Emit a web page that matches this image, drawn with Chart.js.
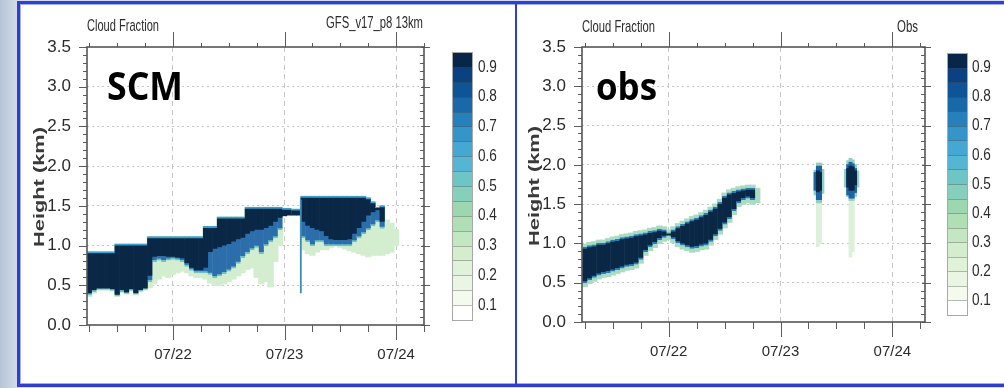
<!DOCTYPE html>
<html><head><meta charset="utf-8">
<script src="https://cdn.jsdelivr.net/npm/chart.js@4.4.1/dist/chart.umd.min.js"></script>
<style>
html,body{margin:0;padding:0;}
body{width:1004px;height:388px;overflow:hidden;position:relative;background:linear-gradient(90deg,#b6c4d8 0,#d2dbe7 17px);}
#frame{position:absolute;left:17px;top:1px;width:1000px;height:386px;box-sizing:border-box;border:3px solid #2f3fd4;background:#fff;box-shadow:inset 0 0 0 1px #a3aef0;}
#divider{position:absolute;left:515px;top:1px;width:2px;height:386px;background:#2f3fd4;}
canvas{position:absolute;top:0;}
#cL{left:0;} #cR{left:516px;}
</style></head><body>
<div id="frame"></div><div id="divider"></div>
<canvas id="cL" width="516" height="388"></canvas>
<canvas id="cR" width="488" height="388"></canvas>
<script>
// ---------- axis / legend labels ----------
const xTickValues = [24, 48, 72];            // hours since 07/21 00:00
const xTickLabels = ['07/22', '07/23', '07/24'];
const cbLevels = [0.1, 0.2, 0.3, 0.4, 0.5, 0.6, 0.7, 0.8, 0.9];
const cbColors = ['#ffffff','#f4faee','#eaf6e3','#e0f2da','#d3edcd','#c3e7c0','#b0dfb5','#9dd7b0',
                  '#86cfbd','#6ec5c6','#55b6d3','#45a8d3','#3594c8','#2580bb','#1769a8','#0d5596','#0a4180','#08254a'];

// ---------- SCM (GFS_v17_p8 13km) : hourly columns ----------
const scmTime = [6,7,8,9,10,11,12,13,14,15,16,17,18,19,20,21,22,23,24,25,26,27,28,29,30,31,32,33,34,35,36,37,38,39,40,41,
                 42,43,44,45,46,47,48,49,50,51,52,53,54,55,56,57,58,59,60,61,62,63,64,65,66,67,68,69,70,71,72,73,74,75,76,77];
const scmTop = [0.92,0.92,0.92,0.92,0.92,0.92, 1.02,1.02,1.02,1.02,1.02,1.02,1.02,
                1.11,1.11,1.11,1.11,1.11,1.11,1.11,1.11,1.11,1.11,1.11,1.11, 1.24,1.24,1.24,
                1.36,1.36,1.36,1.36,1.36,1.36, 1.48,1.48,1.48,1.48,1.48,1.48,1.48,1.48,
                1.47,1.47,1.46,1.46, 1.62,1.62,1.62,1.62,1.62,1.62,1.62,1.62,1.62,1.62,1.62,1.62,1.62,1.62,
                1.60,1.55,1.48,1.50, 1.32,1.28,1.20, null,null,null,null,null];
const scmCoreBase = [0.40,0.44,0.46,0.46,0.46,0.45, 0.38,0.44,0.41,0.45,0.40,0.44,0.46,
                0.62,0.86,0.87,0.87,0.86,0.86,0.85,0.84,0.78,0.72,0.69,0.69, 0.72,0.92,0.96,
                0.98,1.00,1.02,1.05,1.08,1.10, 1.15,1.18,1.20,1.20,1.22,1.25,1.30,1.35,
                1.37,1.38,1.38,1.38, 1.30,1.25,1.22,1.20,1.18,1.12,1.08,1.07,1.07,1.07,1.08,1.15,1.22,1.30,
                1.38,1.42,1.45,1.30, null,null,null, null,null,null,null,null];
const scmBlueBase = [0.38,0.42,0.45,0.45,0.45,0.44, 0.37,0.42,0.40,0.44,0.39,0.43,0.45,
                0.55,0.80,0.82,0.80,0.82,0.83,0.82,0.80,0.74,0.69,0.66,0.66, 0.66,0.64,0.60,
                0.62,0.65,0.68,0.72,0.78,0.85, 0.90,0.95,0.98,0.90,1.00,1.05,1.10,1.20,
                null,null,null,null, 1.10,1.05,1.00,1.05,1.05,1.00,1.00,1.00,1.00,1.00,1.00,1.05,1.10,1.15,
                1.20,1.25,1.30,1.22, null,null,null, null,null,null,null,null];
const scmGreenBase = [0.36,0.40,0.44,0.44,0.44,0.43, 0.36,0.41,0.39,0.43,0.38,0.42,0.44,
                0.47,0.52,0.58,0.62,0.60,0.64,0.66,0.68,0.66,0.62,0.60,0.60, 0.58,0.53,0.50,
                0.50,0.52,0.55,0.58,0.62,0.66, 0.70,0.72,0.60,0.52,0.55,0.48,0.80,1.00,
                null,null,null,null, 0.95,0.90,0.88,0.92,0.95,0.95,0.98,1.00,0.98,0.96,0.94,0.92,0.90,0.88,
                0.86,0.88,0.88,0.88, 0.90,0.92,1.00, null,null,null,null,null];
const scmStreakTime = [51.5];
const scmStreakBase = [0.40];
const scmStreakTop = [1.58];

// ---------- Obs : hourly columns + two narrow cells (half-hourly) ----------
const obsTime = [6,7,8,9,10,11,12,13,14,15,16,17,18,19,20,21,22,23,24,25,26,27,28,29,30,31,32,33,34,35,36,37,38,39,40,41,42,43];
const obsTop = [0.95,0.97,0.98,1.00,1.00,1.02,1.04,1.05,1.07,1.08,1.09,1.11,1.12,1.13,1.15,1.16,1.18,1.17,1.13,1.17,
                1.21,1.24,1.27,1.30,1.32,1.35,1.38,1.42,1.46,1.52,1.60,1.64,1.66,1.68,1.69,1.70,1.70,null];
const obsBase = [0.50,0.54,0.57,0.60,0.62,0.63,0.65,0.67,0.69,0.71,0.72,0.74,0.80,0.90,0.96,1.00,1.05,1.08,1.10,1.06,
                1.01,0.98,0.96,0.94,0.95,0.97,0.98,1.03,1.10,1.17,1.25,1.32,1.42,1.52,1.56,1.58,1.56,null];
const obsHaloTop = [0.99,1.01,1.02,1.04,1.04,1.06,1.08,1.09,1.11,1.12,1.13,1.15,1.16,1.17,1.19,1.20,1.22,1.21,1.17,1.21,
                1.25,1.28,1.31,1.34,1.36,1.39,1.42,1.46,1.50,1.56,1.64,1.68,1.70,1.72,1.73,1.74,1.74,1.70];
const obsHaloBase = [0.45,0.49,0.52,0.55,0.57,0.58,0.60,0.62,0.64,0.66,0.67,0.69,0.75,0.85,0.91,0.95,1.00,1.03,1.05,1.01,
                0.96,0.93,0.91,0.89,0.90,0.92,0.93,0.98,1.05,1.12,1.20,1.27,1.37,1.47,1.50,1.52,1.50,1.52];
const cellTime = [55.5,56,56.5,57, 62,62.5,63,63.5,64,64.5];
const cellHaloLo = [1.62,1.52,1.52,1.64, 1.72,1.60,1.55,1.55,1.60,1.72];
const cellHaloHi = [1.93,2.02,2.02,1.94, 1.94,2.05,2.08,2.06,2.00,1.92];
const cellBlueLo = [1.68,1.56,1.56,null, null,1.62,1.58,1.58,1.65,null];
const cellBlueHi = [1.90,1.98,1.98,null, null,2.00,2.03,2.01,1.95,null];
const cellNavyLo = [null,1.66,1.68,null, null,1.72,1.68,1.68,1.75,null];
const cellNavyHi = [null,1.92,1.90,null, null,1.95,1.98,1.97,1.92,null];
const cellStreakLo = [null,0.96,1.00,null, null,null,0.83,0.90,null,null];
const cellStreakHi = [null,1.52,1.52,null, null,null,1.55,1.55,null,null];

// ---------- helpers ----------
function cols(times, lo, hi) {
  return times.map((t, i) => ({x: t, y: (lo[i] == null || hi[i] == null) ? null : [lo[i], hi[i]]}));
}
const TXT = '#2b2b2b';
const NARROW = "'Liberation Sans Narrow','Liberation Sans',Arial,sans-serif";

function txt(ctx, s, x, y, font, o) {
  o = o || {};
  ctx.save();
  ctx.font = font;
  ctx.translate(x, y);
  if (o.rot) ctx.rotate(o.rot);
  const m = ctx.measureText(s).width;
  const sx = o.w ? o.w / m : (o.sx || 1);
  ctx.scale(sx, o.sy || 1);
  ctx.textAlign = o.align || 'left';
  ctx.textBaseline = o.base || 'alphabetic';
  ctx.fillStyle = o.color || TXT;
  ctx.fillText(s, 0, 0);
  ctx.restore();
}

const axisDeco = {
  id: 'axisDeco',
  afterDatasetsDraw(chart) {
    const {ctx, chartArea: a, scales: {x, y}} = chart;
    ctx.save();
    ctx.strokeStyle = '#5c5c5c';
    ctx.lineWidth = 1;
    ctx.beginPath();
    for (let k = 0; k <= 35; k++) {
      const py = Math.round(y.getPixelForValue(k / 10)) + 0.5;
      const major = k % 5 === 0;
      ctx.moveTo(a.left, py); ctx.lineTo(a.left - (major ? 8 : 4), py);
      if (major) { ctx.moveTo(a.right - 3, py); ctx.lineTo(a.right + 6, py); }
      else { ctx.moveTo(a.right, py); ctx.lineTo(a.right - 4, py); }
    }
    for (let h = 6; h <= x.max; h += 6) {
      const px = Math.round(x.getPixelForValue(h)) + 0.5;
      const major = xTickValues.includes(h);
      ctx.moveTo(px, a.top); ctx.lineTo(px, a.top - (major ? 15 : 4));
      ctx.moveTo(px, a.bottom); ctx.lineTo(px, a.bottom + (major ? 15 : 7));
    }
    ctx.stroke();
    ctx.lineWidth = 1.6;
    ctx.strokeStyle = '#555';
    ctx.strokeRect(a.left, a.top, a.right - a.left, a.bottom - a.top);
    ctx.restore();
  }
};

const panelDeco = {
  id: 'panelDeco',
  afterDraw(chart, args, o) {
    const ctx = chart.ctx;
    txt(ctx, 'Cloud Fraction', o.cf.x, o.cf.y, "17px 'Liberation Sans',Arial,sans-serif", {w: o.cf.w});
    txt(ctx, o.id.text, o.id.x, o.id.y, "16px 'Liberation Sans',Arial,sans-serif", {w: o.id.w, align: 'right'});
    txt(ctx, o.tag.text, o.tag.x, o.tag.y, o.tag.font, {w: o.tag.w, color: '#000'});
    txt(ctx, 'Height (km)', o.yt.x, o.yt.y, "bold 21px 'Liberation Sans',Arial,sans-serif",
        {w: 120, sy: 0.72, rot: -Math.PI / 2, align: 'center', base: 'middle', color: '#3a3a3a'});
    // colour bar (18 boxes, labels on every second boundary)
    const cb = o.cb;
    const n = cbColors.length;
    const bh = (cb.y1 - cb.y0) / n;
    for (let i = 0; i < n; i++) {
      ctx.fillStyle = cbColors[i];
      ctx.fillRect(cb.x, cb.y1 - (i + 1) * bh, cb.w, bh + 0.5);
    }
    ctx.save();
    ctx.strokeStyle = 'rgba(70,70,70,0.35)';
    ctx.lineWidth = 1;
    ctx.beginPath();
    for (let i = 1; i < n; i++) {
      const yy = Math.round(cb.y1 - i * bh) + 0.5;
      ctx.moveTo(cb.x, yy); ctx.lineTo(cb.x + cb.w, yy);
    }
    ctx.stroke();
    ctx.strokeStyle = '#a8a8a8';
    ctx.strokeRect(cb.x + 0.5, cb.y0 + 0.5, cb.w, cb.y1 - cb.y0);
    ctx.restore();
    cbLevels.forEach((v, i) => {
      const yy = cb.y1 - (1 + 2 * i) * bh;
      txt(ctx, v.toFixed(1), cb.lx, yy, "17px 'Liberation Sans',Arial,sans-serif", {sx: 0.8, base: 'middle'});
    });
  }
};

function makePanel(canvas, p) {
  return new Chart(canvas, {
    type: 'bar',
    data: {datasets: p.datasets},
    options: {
      responsive: false,
      animation: false,
      events: [],
      layout: {padding: p.padding},
      datasets: {bar: {grouped: false, barPercentage: 1, categoryPercentage: 2.2, inflateAmount: 0.6, clip: 0, borderWidth: 0}},
      plugins: {legend: {display: false}, tooltip: {enabled: false}, panelDeco: p.deco},
      scales: {
        x: {
          type: 'linear', min: p.xmin, max: p.xmax, offset: false,
          grid: {offset: false, color: '#c6c6c6', lineWidth: 1, drawTicks: false},
          border: {display: false, dash: [5, 4]},
          ticks: {font: {family: NARROW, size: 15}, color: TXT, padding: 21, maxRotation: 0, autoSkip: false,
                  callback: (v) => xTickLabels[xTickValues.indexOf(v)] || ''},
          afterBuildTicks: (s) => { s.ticks = xTickValues.map(v => ({value: v})); },
          afterFit: (s) => { s.height = 40; }
        },
        y: {
          type: 'linear', min: 0, max: 3.5,
          grid: {drawTicks: false, lineWidth: 1,
                 color: (c) => (c.tick && (c.tick.value === 0 || c.tick.value === 3.5)) ? 'rgba(0,0,0,0)' : '#c6c6c6'},
          border: {display: false, dash: [2, 3]},
          ticks: {stepSize: 0.5, font: {family: NARROW, size: 17}, color: TXT, padding: 16,
                  callback: (v) => Number(v).toFixed(1)},
          afterFit: (s) => { s.width = p.yw; }
        }
      }
    },
    plugins: [axisDeco, panelDeco]
  });
}

const CORE = '#0a2746';

makePanel(document.getElementById('cL'), {
  xmin: 5.5, xmax: 78, yw: 67,
  padding: {left: 20, right: 92, top: 47, bottom: 23},
  datasets: [
    {label: 'streak', data: cols(scmStreakTime, scmStreakBase, scmStreakTop), backgroundColor: '#3d8fb8', categoryPercentage: 0.8, inflateAmount: 0},
    {label: 'core', data: cols(scmTime, scmCoreBase, scmTop), backgroundColor: CORE,
     borderColor: '#3f9fcf', borderWidth: {top: 2, right: 0, bottom: 0, left: 0}, borderSkipped: false},
    {label: 'mid', data: cols(scmTime, scmBlueBase, scmTop), backgroundColor: '#2b6eab',
     borderColor: '#6fc1c6', borderWidth: {top: 0, right: 0, bottom: 2, left: 0}, borderSkipped: false},
    {label: 'low', data: cols(scmTime, scmGreenBase, scmTop), backgroundColor: '#d3edcf'}
  ],
  deco: {
    cf: {x: 87, y: 31, w: 72},
    id: {text: 'GFS_v17_p8 13km', x: 423, y: 28, w: 97},
    tag: {text: 'SCM', x: 107, y: 100, w: 76, font: "bold 39px 'Open Sans',sans-serif"},
    yt: {x: 40, y: 187},
    cb: {x: 452, y0: 52, y1: 320, w: 20, lx: 478}
  }
});

makePanel(document.getElementById('cR'), {
  xmin: 5.4, xmax: 79, yw: 66,
  padding: {left: 0, right: 79, top: 47, bottom: 26},
  datasets: [
    {label: 'cellNavy', data: cols(cellTime, cellNavyLo, cellNavyHi), backgroundColor: CORE, categoryPercentage: 1.1},
    {label: 'cellBlue', data: cols(cellTime, cellBlueLo, cellBlueHi), backgroundColor: '#1f63a3', categoryPercentage: 1.1},
    {label: 'cellHalo', data: cols(cellTime, cellHaloLo, cellHaloHi), backgroundColor: '#8fd0c4', categoryPercentage: 1.1},
    {label: 'cellStreak', data: cols(cellTime, cellStreakLo, cellStreakHi), backgroundColor: '#dcf1d8', categoryPercentage: 1.1},
    {label: 'core', data: cols(obsTime, obsBase, obsTop), backgroundColor: CORE,
     borderColor: '#2a7bb5', borderWidth: {top: 2, right: 0, bottom: 2, left: 0}, borderSkipped: false},
    {label: 'halo', data: cols(obsTime, obsHaloBase, obsHaloTop), backgroundColor: '#a9dcc0'}
  ],
  deco: {
    cf: {x: 66, y: 32, w: 73},
    id: {text: 'Obs', x: 402, y: 32, w: 21},
    tag: {text: 'obs', x: 80, y: 100, w: 61, font: "bold 37px 'Open Sans',sans-serif"},
    yt: {x: 19, y: 186},
    cb: {x: 431, y0: 53, y1: 315, w: 20, lx: 456}
  }
});
</script>
</body></html>
